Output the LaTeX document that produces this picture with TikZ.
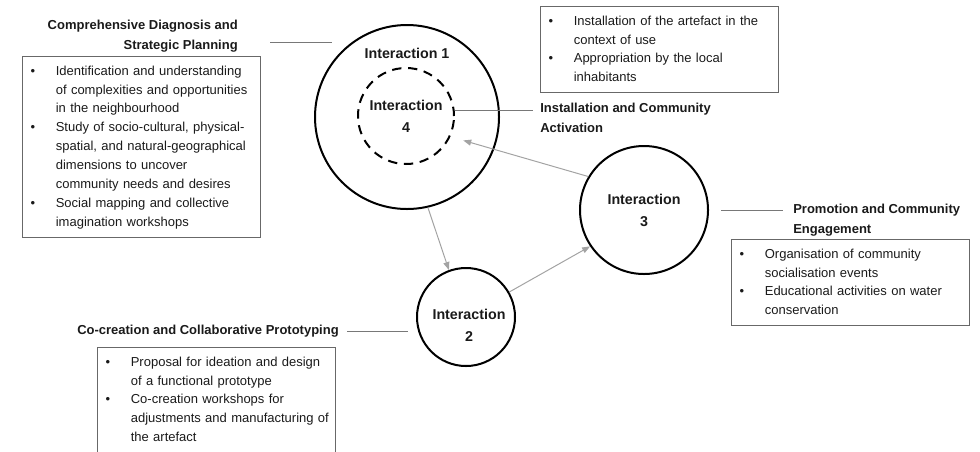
\documentclass[tikz,border=0pt]{standalone}
\usepackage{fontspec}
\setmainfont{Liberation Sans}
\usepackage{xcolor}
\usepackage{tikz}
\usetikzlibrary{arrows.meta}
\definecolor{inkP}{HTML}{1A1A1A}
\definecolor{inkB}{HTML}{686868}
\definecolor{inkL}{HTML}{787878}
\definecolor{inkA}{HTML}{A3A3A3}
\newcommand{\txtbody}{\fontsize{9.75}{14.2}\selectfont}
\newcommand{\txthead}{\bfseries\fontsize{9.75}{15}\selectfont}
\newcommand{\txtring}{\bfseries\fontsize{10.7}{16.5}\selectfont}
\newenvironment{pointlist}{\begin{tabular}{@{}p{19pt}@{}l@{}}}{\end{tabular}}
\tikzset{
  ring/.style={circle, draw=black, line width=1.5pt, inner sep=0pt,
    align=center, font=\txtring, text=inkP},
  ringdash/.style={dash pattern=on 7pt off 5pt},
  ringlabel/.style={font=\txtring, align=center, inner sep=0pt, text=inkP},
  stagehead/.style={font=\txthead, inner sep=0pt, text=inkP},
  notebox/.style={rectangle, draw=inkB, line width=0.75pt, anchor=north west,
    text width=166.5pt, inner xsep=6pt, inner ysep=4pt, align=left,
    font=\txtbody, text=inkP},
  lead/.style={inkL, line width=0.75pt},
  flow/.style={-{Triangle[length=6pt,width=4.5pt]}, inkA, line width=0.75pt},
}

\begin{document}
\begin{tikzpicture}[x=0.75pt, y=-0.75pt]
    \useasboundingbox (0,0) rectangle (980,451);
    % interaction rings
    \node[ring, minimum size=138pt] (int1) at (407,117) {};
    \node[ring, ringdash, minimum size=72pt] (int4) at (406,116)
      {Interaction\\4};
    \node[ring, minimum size=96pt] (int3) at (644,210) {Interaction\\3};
    \node[ring, minimum size=73.5pt] (int2) at (466,317) {};
    \node[ringlabel] (lab1) at (407,53) {Interaction 1};
    \node[ringlabel] (lab2) at (469,325) {Interaction\\2};
    % stage titles
    \node[stagehead, anchor=east, align=right] (diag) at (238,36)
      {Comprehensive Diagnosis and\\Strategic Planning};
    \node[stagehead, anchor=west, align=left] (activ) at (540,118)
      {Installation and Community\\Activation};
    \node[stagehead, anchor=west, align=left] (promo) at (793,220)
      {Promotion and Community\\Engagement};
    \node[stagehead, anchor=west] (cocre) at (77,331)
      {Co-creation and Collaborative Prototyping};
    % activity boxes
    \node[notebox] (diagbox) at (22,56)
      {\begin{pointlist}
       \textbullet & Identification and understanding\\
       & of complexities and opportunities\\
       & in the neighbourhood\\
       \textbullet & Study of socio-cultural, physical-\\
       & spatial, and natural-geographical\\
       & dimensions to uncover\\
       & community needs and desires\\
       \textbullet & Social mapping and collective\\
       & imagination workshops
       \end{pointlist}};
    \node[notebox] (activbox) at (540,6)
      {\begin{pointlist}
       \textbullet & Installation of the artefact in the\\
       & context of use\\
       \textbullet & Appropriation by the local\\
       & inhabitants
       \end{pointlist}};
    \node[notebox] (promobox) at (731,239)
      {\begin{pointlist}
       \textbullet & Organisation of community\\
       & socialisation events\\
       \textbullet & Educational activities on water\\
       & conservation
       \end{pointlist}};
    \node[notebox] (cocrebox) at (97,347)
      {\begin{pointlist}
       \textbullet & Proposal for ideation and design\\
       & of a functional prototype\\
       \textbullet & Co-creation workshops for\\
       & adjustments and manufacturing of\\
       & the artefact
       \end{pointlist}};
    % leader lines
    \draw[lead, shorten <=24pt, shorten >=14pt] (diag.east |- int1.127)
      -- (int1.127);
    \draw[lead, shorten >=5pt] (int4.7) -- (int4.7 -| activ.west);
    \draw[lead, shorten <=9pt, shorten >=7.5pt] (int3.east)
      -- (int3.east -| promo.west);
    \draw[lead, shorten <=6pt, shorten >=6pt] (cocre.east)
      -- (cocre.east -| int2.west);
    % cycle between interactions
    \draw[flow] (int1.-77) -- (int2.110);
    \draw[flow] (int2.30) -- (int3.214);
    \draw[flow, shorten >=10pt] (int3.149) -- (int4.-25);
\end{tikzpicture}
\end{document}
